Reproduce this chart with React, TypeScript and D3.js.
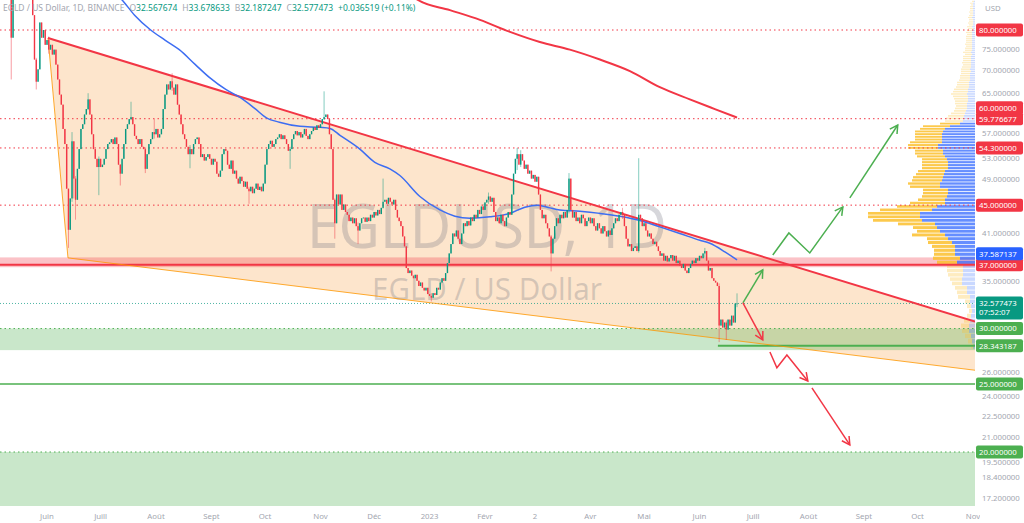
import React from "react";
import * as d3 from "d3";

// ---------------- data ----------------
const firstCandleDay = -25; // days from 2022-06-01 (first candle = 2022-05-07)
const firstOpen = 112;
const closes: number[] = [
  108, 104, 99, 101, 96, 78, 90, 94, 96, 93, 97, 89.5, 93, 95, 92, 96, 94, 84, 72.6, 67.5, 70.3, 82, 78, 80, 76.2,
  77.4, 75.0, 76.2, 73.8, 75.0, 71.4, 68.0, 64.7, 62.6, 57.8,
  55.0, 47.5, 41.5, 46.0, 55.5, 49.1, 45.8, 50.7, 54.1, 57.8,
  58.7, 60.6, 61.7, 63.7, 60.6, 56.8, 54.1, 52.4, 51.0, 52.4,
  51.0, 51.4, 52.4, 54.1, 55.0, 55.3, 55.9, 55.0, 56.2, 55.0,
  51.4, 49.9, 52.4, 55.0, 57.8, 58.7, 59.7, 60.1, 58.7, 56.5,
  55.9, 55.0, 55.9, 54.5, 54.1, 50.7, 53.2, 55.0, 55.9, 57.2,
  56.8, 57.8, 56.2, 56.8, 57.8, 61.7, 64.7, 66.9, 65.8, 67.6,
  66.2, 64.7, 66.9, 62.6, 60.6, 58.7, 56.8, 55.9, 54.5, 53.2,
  54.1, 53.2, 55.0, 55.9, 56.2, 55.0, 52.7, 53.2, 52.1, 52.7,
  53.2, 52.4, 51.4, 52.4, 51.9, 49.9, 49.4, 50.4, 53.2, 54.1,
  53.8, 51.4, 50.7, 52.1, 49.9, 50.4, 49.1, 48.3, 49.4, 48.7,
  47.8, 48.6, 47.5, 47.1, 47.8, 46.8, 47.5, 48.3, 47.3, 47.8,
  47.1, 48.3, 51.4, 54.1, 55.0, 55.6, 54.5, 55.0, 55.9, 56.2,
  56.8, 55.9, 56.6, 55.9, 55.0, 53.8, 54.1, 55.9, 56.8, 57.4,
  56.6, 57.2, 56.2, 56.8, 57.8, 56.5, 55.9, 56.8, 57.4, 58.1,
  57.6, 58.5, 58.0, 58.7, 59.7, 60.1, 60.6, 59.7, 56.8, 54.1,
  45.8, 42.4, 46.6, 45.1, 46.6, 44.3, 45.1, 44.0, 43.6, 42.7,
  43.2, 42.4, 43.1, 42.0, 41.4, 42.4, 43.1, 43.2, 42.6, 43.2,
  42.7, 43.6, 43.2, 44.0, 43.5, 44.3, 43.7, 44.6, 45.5, 45.8,
  45.2, 46.1, 45.5, 45.1, 45.8, 44.3, 43.2, 42.7, 42.0, 40.6,
  39.3, 36.6, 36.0, 36.3, 35.7, 35.4, 35.8, 35.1, 34.5, 34.9,
  34.3, 34.0, 34.3, 33.6, 33.4, 33.2, 33.7, 33.5, 34.3, 34.1,
  34.9, 35.4, 35.1, 36.0, 37.2, 38.4, 39.6, 41.0, 40.6, 41.4,
  40.3, 39.6, 41.0, 42.4, 42.0, 42.7, 42.1, 43.2, 42.7, 43.6,
  43.2, 44.3, 43.7, 44.8, 44.3, 45.4, 45.8, 46.3, 45.5, 46.1,
  44.0, 42.7, 43.2, 42.4, 43.6, 42.7, 42.0, 43.2, 44.0, 43.6,
  46.6, 49.9, 52.4, 53.2, 51.4, 53.2, 52.1, 50.7, 51.4, 49.9,
  50.4, 49.1, 49.7, 48.6, 49.4, 46.6, 44.3, 43.1, 43.6, 42.4,
  41.7, 40.6, 38.4, 40.3, 42.0, 43.1, 42.4, 43.6, 43.1, 44.0,
  43.2, 44.3, 49.1, 44.3, 43.2, 44.0, 42.7, 43.2, 42.4, 43.6,
  43.1, 42.0, 42.7, 43.2, 42.4, 43.1, 42.0, 41.4, 42.4, 41.7,
  41.0, 42.0, 41.3, 40.6, 41.4, 40.8, 41.7, 42.4, 43.1, 42.7,
  43.6, 44.0, 43.6, 42.0, 40.3, 39.3, 39.6, 38.7, 39.1, 39.3,
  38.7, 43.6, 43.1, 42.0, 42.4, 41.4, 40.6, 41.0, 40.3, 39.6,
  39.9, 39.3, 38.7, 38.1, 38.4, 37.5, 38.1, 37.4, 37.8, 38.2,
  37.5, 38.1, 37.2, 37.5, 36.9, 36.6, 37.1, 36.3, 36.0, 36.6,
  37.1, 37.5, 37.2, 37.8, 37.5, 38.1, 37.8, 38.4, 38.7, 37.5,
  36.3, 36.6, 35.4, 35.1, 34.9, 34.5, 30.3, 30.9, 30.1, 30.6,
  29.9, 30.9, 30.3, 31.3, 30.6, 32.567674, 32.577473,
];
// visible wicks: day offset, high, low
const wickDays = [-20, -6, 1, 12, 14, 15, 16, 23, 29, 41, 47, 55, 60, 70, 80, 113, 136, 155, 161, 174, 188, 215, 247, 263, 265, 282, 292, 322, 331, 368, 376, 380, 386];
const wickHighs = [95, 73, 78.3, 46, 57.2, 55.5, 49.5, 65.0, 52.8, 51.5, 63.2, 54.3, 59.7, 69.4, 54.8, 47.8, 54.5, 65.4, 46.0, 42.5, 49.1, 33.7, 46.9, 54.3, 53.9, 40.8, 50.0, 44.6, 52.5, 39.1, 34.8, 30.8, 33.678633];
const wickLows = [68.0, 65.8, 74, 39.1, 45.5, 46.0, 42.9, 61.5, 46.5, 48.0, 59.5, 50.0, 56.0, 65.5, 50.8, 45.2, 50.7, 59.5, 40.3, 39.6, 44.5, 32.8, 45.2, 50.5, 51.0, 36.2, 43.8, 43.0, 38.5, 37.9, 28.7, 28.9, 32.187247];

const blueMaDays = [36, 42, 49, 58, 66, 74, 83, 91, 100, 108, 116, 123, 130, 141.5, 152.7, 158.3, 163.9, 175, 183.4, 191.8, 197.4, 208.6, 219.8, 228.2, 236.6, 247.8, 258.9, 267.3, 274.6, 281.3, 286.9, 298.1, 309.3, 320.5, 331.7, 342.8, 354, 365.2, 370.8, 379.2, 386];
const blueMaValues = [91.5, 88.3, 84.0, 80.0, 77.4, 75.0, 71.4, 68.4, 65.8, 64.1, 61.9, 59.9, 59.1, 58.3, 58.1, 57.9, 56.6, 54.1, 51.8, 50.7, 49.6, 46.3, 44.3, 43.4, 43.1, 43.3, 43.8, 44.7, 45.0, 44.6, 44.3, 44.1, 43.8, 43.4, 42.8, 41.9, 41.0, 40.1, 39.7, 38.6, 37.587137];
const redMaDays = [200, 207.5, 225.4, 242.2, 259, 275.7, 292.5, 309.3, 326.1, 342.8, 359.6, 373.6, 386];
const redMaValues = [91.5, 88.3, 85.4, 82.7, 79.5, 76.9, 75.0, 72.6, 69.9, 66.3, 63.7, 61.7, 60.0];

const monthLabels = ["Juin", "Juill", "Août", "Sept", "Oct", "Nov", "Déc", "2023", "Févr", "2", "Avr", "Mai", "Juin", "Juill", "Août", "Sept", "Oct", "Nov"];
const priceTicks = [75, 70, 65, 57, 53, 49, 41, 35, 26, 24, 22.5, 21, 19.5, 18.4, 17.2];

const dottedRedLevels = [80, 59.776677, 54.3, 45];
const dottedGreenLevels = [30, 20];
const resistanceLevel = 37;
const resistanceBand = [37.9, 36.7];
const supportLevel = 25;
const lowLevel = 28.343187;
const lowLevelStartDay = 375.3;
const lastPrice = 32.577473;
const greenZoneA = [30, 27.95];
const greenZoneB = [20, 15];

// wedge anchors [day, price]
const upperLine = [[0.56, 77.93], [386, 38.99]];
const lowerLine = [[11.74, 37.84], [506.7, 26.4]];

const greenArrows = [
  [[389.3, 32.64], [400.4, 36.38]],
  [[406, 38.21], [415, 41.07], [426.7, 38.46], [445.2, 44.74]],
  [[449.1, 46.08], [475.9, 58.56]],
];
const redArrows = [
  [[389.3, 32.64], [400.4, 28.9]],
  [[404.4, 27.78], [408.3, 26.37], [413.9, 27.51], [425.6, 25.26]],
  [[427.9, 24.69], [449.1, 20.47]],
];

// visible-range volume profile (bins of 0.5 from 28)
const profileStart = 28;
const profileStep = 0.5;
const profileDown = [2, 4, 6, 7, 8, 6, 4, 3, 4, 5, 12, 10, 12, 10, 12, 15, 16, 16, 20, 27, 21, 21, 23, 24, 21, 33, 23, 24, 37, 49, 52, 52, 52, 40, 35, 27, 25, 25, 25, 30, 32, 30, 30, 28, 27, 26, 26, 26, 25, 28, 28, 28, 30, 30, 32, 27, 27, 27, 28, 25, 27, 20, 18, 17, 16, 14, 12, 12, 11, 12, 13, 14, 15, 16, 15, 14, 13, 12, 12, 11,
  10, 10, 9, 10, 9, 9, 8, 9, 8,
  8, 8, 7, 8, 7, 7, 6, 7, 6, 6,
  6, 6, 5, 6, 5, 5, 5, 4, 5, 4, 4,
  4, 4, 3, 4, 3, 3, 3, 2, 3, 2, 2];
const profileUp = [2, 3, 4, 6, 6, 5, 4, 3, 4, 5, 5, 8, 8, 13, 13, 12, 12, 12, 18, 15, 20, 20, 20, 23, 27, 30, 35, 38, 40, 53, 55, 55, 43, 38, 30, 30, 28, 27, 27, 35, 35, 33, 32, 31, 30, 27, 27, 27, 28, 30, 32, 32, 37, 37, 33, 33, 33, 33, 32, 30, 25, 15, 12, 12, 11, 10, 9, 8, 8, 8, 7, 7, 7, 8, 7, 7, 6, 6, 6, 5,
  5, 5, 5, 4, 5, 4, 4, 4, 4,
  4, 4, 3, 4, 3, 3, 3, 3, 3, 3,
  3, 3, 3, 3, 3, 2, 3, 2, 2, 2, 2,
  3, 2, 2, 2, 2, 2, 2, 2, 2, 1, 1];
const valueAreaLow = 37;
const valueAreaHigh = 59;

const axisLabels = [
  { value: 80, text: "80.000000", color: "#f23645" },
  { value: 60, text: "60.000000", color: "#f23645" },
  { value: 59.776677, text: "59.776677", color: "#f23645" },
  { value: 54.3, text: "54.300000", color: "#f23645" },
  { value: 45, text: "45.000000", color: "#f23645" },
  { value: 37.587137, text: "37.587137", color: "#2962ff" },
  { value: 37, text: "37.000000", color: "#f23645" },
  { value: 30, text: "30.000000", color: "#4caf50" },
  { value: 28.343187, text: "28.343187", color: "#4caf50" },
  { value: 25, text: "25.000000", color: "#4caf50" },
  { value: 20, text: "20.000000", color: "#4caf50" },
];
const countdown = "07:52:07";

// ---------------- chart ----------------
const W = 1024, H = 523;
const PW = 975, PH = 506;
const GREEN = "#089981", RED = "#f23645", LGREEN = "#4caf50";
const FONT = "Noto Sans, Roboto, sans-serif";
const JUNE1 = Date.UTC(2022, 5, 1);
const DAY = 86400000;

const xScale = d3.scaleUtc().domain([new Date(JUNE1), new Date(Date.UTC(2023, 10, 1))]).range([47, 973]);
const yScale = d3.scaleLog().domain([80, 20]).range([30, 452]);
const X = (d: number) => xScale(new Date(JUNE1 + d * DAY));
const Y = (p: number) => yScale(p);

function extendTo(p1: number[], p2: number[], xr: number) {
  const x1 = X(p1[0]), y1 = Y(p1[1]), x2 = X(p2[0]), y2 = Y(p2[1]);
  const k = (y2 - y1) / (x2 - x1);
  return [x1, y1, xr, y1 + k * (xr - x1)];
}

function head(pts: number[][]) {
  const a = pts[pts.length - 2], b = pts[pts.length - 1];
  const x1 = X(a[0]), y1 = Y(a[1]), x2 = X(b[0]), y2 = Y(b[1]);
  const ang = Math.atan2(y2 - y1, x2 - x1);
  const L = 9, s = 0.5;
  return `M${x2 - L * Math.cos(ang - s)},${y2 - L * Math.sin(ang - s)}L${x2},${y2}L${x2 - L * Math.cos(ang + s)},${y2 - L * Math.sin(ang + s)}`;
}

export default function App() {
  const candles = closes.map((c, i) => {
    const d = firstCandleDay + i;
    const o = i === 0 ? firstOpen : closes[i - 1];
    const wi = wickDays.indexOf(d);
    const h = wi >= 0 ? Math.max(wickHighs[wi], o, c) : Math.max(o, c);
    const l = wi >= 0 ? Math.min(wickLows[wi], o, c) : Math.min(o, c);
    return { d, o, h, l, c };
  });

  const up = extendTo(upperLine[0], upperLine[1], PW);
  const lo = extendTo(lowerLine[0], lowerLine[1], PW);
  const wedge = `M${up[0]},${up[1]}L${up[2]},${up[3]}L${lo[2]},${lo[3]}L${lo[0]},${lo[1]}Z`;

  const lineGen = d3.line<number[]>().x((p) => X(p[0])).y((p) => Y(p[1])).curve(d3.curveMonotoneX);
  const blue = lineGen(blueMaDays.map((d, i) => [d, blueMaValues[i]]));
  const redMa = lineGen(redMaDays.map((d, i) => [d, redMaValues[i]]));
  const poly = d3.line<number[]>().x((p) => X(p[0])).y((p) => Y(p[1]));

  const vScale = d3.scaleLinear().domain([0, 107]).range([0, 107]);

  const monthTicks = xScale.ticks(d3.utcMonth.every(1) as any);

  // label stacking (bottom-up)
  const placed = axisLabels.map((l) => ({ ...l, y: Y(l.value) })).sort((a, b) => b.y - a.y);
  for (let i = 1; i < placed.length; i++) {
    if (placed[i - 1].y - placed[i].y < 11) placed[i].y = placed[i - 1].y - 11;
  }
  // keep grey tick texts clear of the coloured label boxes
  const tickY = (p: number) => {
    let ty = Y(p) + 2.8;
    for (const l of placed) {
      const top = l.y - 6.5, bot = l.y + 6.5;
      if (ty > top && ty - 6 < bot) {
        ty = Y(p) > l.y ? bot + 6.6 : top - 0.8;
      }
    }
    return ty;
  };

  return (
    <svg width={W} height={H} style={{ position: "fixed", left: 0, top: 0, background: "#fff" }} fontFamily={FONT}>
      <defs>
        <clipPath id="plot"><rect x={0} y={0} width={PW} height={PH} /></clipPath>
        <clipPath id="taxis"><rect x={0} y={PH} width={980} height={H - PH} /></clipPath>
      </defs>
      <rect x={0} y={0} width={W} height={H} fill="#fff" />
      <g clipPath="url(#plot)">
        {/* wedge fill */}
        <path d={wedge} fill="rgba(245,124,0,0.2)" />
        {/* green zones */}
        <rect x={0} width={PW} y={Y(greenZoneA[0])} height={Y(greenZoneA[1]) - Y(greenZoneA[0])} fill="rgba(76,175,80,0.3)" />
        <rect x={0} width={PW} y={Y(greenZoneB[0])} height={Y(greenZoneB[1]) - Y(greenZoneB[0])} fill="rgba(76,175,80,0.3)" />
        {/* resistance band */}
        <rect x={0} width={PW} y={Y(resistanceBand[0])} height={Y(resistanceBand[1]) - Y(resistanceBand[0])} fill="rgba(242,54,69,0.3)" />
        {/* watermark */}
        <text x={487} y={248} fontSize={62} textAnchor="middle" fill="rgba(110,112,125,0.28)" textLength={360} lengthAdjust="spacingAndGlyphs">EGLDUSD, 1D</text>
        <text x={487} y={300} fontSize={30} textAnchor="middle" fill="rgba(110,112,125,0.28)" textLength={230} lengthAdjust="spacingAndGlyphs">EGLD / US Dollar</text>
        {/* volume profile */}
        {profileDown.map((dv, i) => {
          const lowP = profileStart + i * profileStep;
          const hiP = lowP + profileStep;
          const inVA = lowP >= valueAreaLow && hiP <= valueAreaHigh + 0.01;
          const yT = Y(hiP), yB = Y(lowP);
          const bu = vScale(profileUp[i]), bd = vScale(dv);
          const hgt = Math.max(0.6, yB - yT - 0.8);
          return (
            <g key={"vp" + i}>
              <rect x={PW - bu} y={yT} width={bu} height={hgt} fill={inVA ? "rgba(41,98,255,0.72)" : "rgba(41,98,255,0.25)"} />
              <rect x={PW - bu - bd} y={yT} width={bd} height={hgt} fill={inVA ? "rgba(251,192,45,0.85)" : "rgba(251,192,45,0.3)"} />
            </g>
          );
        })}
        {/* horizontal levels */}
        {dottedRedLevels.map((p) => (
          <line key={"dr" + p} x1={0} x2={PW} y1={Y(p)} y2={Y(p)} stroke={RED} strokeWidth={1} strokeDasharray="1.5,3" />
        ))}
        {dottedGreenLevels.map((p) => (
          <line key={"dg" + p} x1={0} x2={PW} y1={Y(p)} y2={Y(p)} stroke={LGREEN} strokeWidth={1} strokeDasharray="1.5,3" />
        ))}
        <line x1={0} x2={PW} y1={Y(lastPrice)} y2={Y(lastPrice)} stroke={GREEN} strokeWidth={1} strokeDasharray="1,2" opacity={0.7} />
        <line x1={0} x2={PW} y1={Y(resistanceLevel)} y2={Y(resistanceLevel)} stroke={RED} strokeWidth={2} />
        <line x1={0} x2={PW} y1={Y(supportLevel)} y2={Y(supportLevel)} stroke={LGREEN} strokeWidth={1.5} />
        <line x1={X(lowLevelStartDay)} x2={PW} y1={Y(lowLevel)} y2={Y(lowLevel)} stroke={LGREEN} strokeWidth={2} />
        {/* wedge edges */}
        <line x1={up[0]} y1={up[1]} x2={lo[0]} y2={lo[1]} stroke="#ff9800" strokeWidth={1} opacity={0.8} />
        <line x1={lo[0]} y1={lo[1]} x2={lo[2]} y2={lo[3]} stroke="#ff9800" strokeWidth={1} opacity={0.8} />
        <line x1={up[0]} y1={up[1]} x2={up[2]} y2={up[3]} stroke={RED} strokeWidth={2} />
        {/* moving averages */}
        <path d={redMa || ""} fill="none" stroke={RED} strokeWidth={2} />
        <path d={blue || ""} fill="none" stroke="#3d6df2" strokeWidth={1.5} />
        {/* candles */}
        {candles.map((k) => {
          const cx = X(k.d);
          const col = k.c >= k.o ? GREEN : RED;
          const yt = Y(Math.max(k.o, k.c)), yb = Y(Math.min(k.o, k.c));
          return (
            <g key={"c" + k.d}>
              <line x1={cx} x2={cx} y1={Y(k.h)} y2={Y(k.l)} stroke={col} strokeWidth={0.7} opacity={0.7} />
              <rect x={cx - 0.7} width={1.4} y={yt} height={Math.max(0.8, yb - yt)} fill={col} />
            </g>
          );
        })}
        {/* arrows */}
        {greenArrows.map((pts, i) => (
          <g key={"ga" + i} fill="none" stroke={LGREEN} strokeWidth={1.5}>
            <path d={poly(pts) || ""} />
            <path d={head(pts)} />
          </g>
        ))}
        {redArrows.map((pts, i) => (
          <g key={"ra" + i} fill="none" stroke={RED} strokeWidth={1.5}>
            <path d={poly(pts) || ""} />
            <path d={head(pts)} />
          </g>
        ))}
      </g>
      {/* header */}
      <text x={3} y={11} fontSize={8.5} fill="#a3a6af">
        <tspan>EGLD / US Dollar, 1D, BINANCE</tspan>
        <tspan dx={5}>O</tspan><tspan fill={GREEN}>32.567674</tspan>
        <tspan dx={5}>H</tspan><tspan fill={GREEN}>33.678633</tspan>
        <tspan dx={5}>B</tspan><tspan fill={GREEN}>32.187247</tspan>
        <tspan dx={5}>C</tspan><tspan fill={GREEN}>32.577473</tspan>
        <tspan dx={5} fill={GREEN}>+0.036519 (+0.11%)</tspan>
      </text>
      {/* price axis */}
      <rect x={PW} y={0} width={W - PW} height={H} fill="#fff" />
      <text x={985} y={11} fontSize={7.8} fill="#a3a6af">USD</text>
      {priceTicks.map((p) => (
        <text key={"pt" + p} x={982} y={tickY(p)} fontSize={7.8} fill="#a3a6af">{p.toFixed(6)}</text>
      ))}
      {placed.map((l) => (
        <g key={"al" + l.text}>
          <rect x={976} y={l.y - 6.5} width={47} height={13} rx={2} fill={l.color} />
          <text x={979} y={l.y + 2.8} fontSize={7.8} fill="#fff">{l.text}</text>
        </g>
      ))}
      <g>
        <rect x={976} y={Y(lastPrice) - 7} width={47} height={23} rx={2} fill={GREEN} />
        <text x={979} y={Y(lastPrice) + 2.5} fontSize={7.8} fill="#fff">{lastPrice.toFixed(6)}</text>
        <text x={979} y={Y(lastPrice) + 12} fontSize={7.8} fill="#fff">{countdown}</text>
      </g>
      {/* time axis */}
      <g clipPath="url(#taxis)">
        {monthTicks.map((t, i) => (
          <text key={"mt" + i} x={xScale(t)} y={519} fontSize={7.8} textAnchor="middle" fill="#a3a6af">{monthLabels[i]}</text>
        ))}
      </g>
    </svg>
  );
}
